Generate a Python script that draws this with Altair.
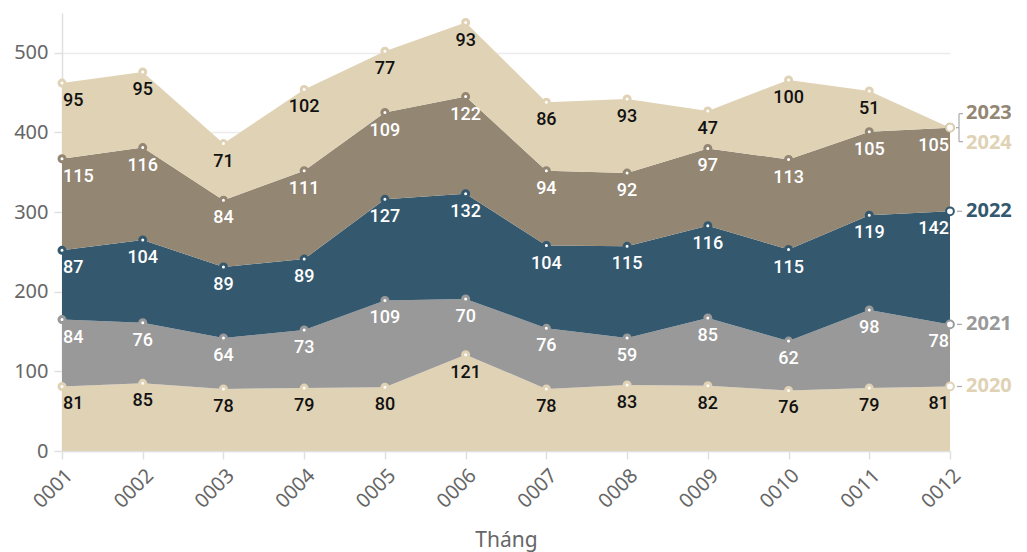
import altair as alt
import pandas as pd

# Monthly counts per year, stacked bottom (2020) to top (2024)
months = ["0001", "0002", "0003", "0004", "0005", "0006",
          "0007", "0008", "0009", "0010", "0011", "0012"]
years = ["2020", "2021", "2022", "2023", "2024"]
v2020 = [81, 85, 78, 79, 80, 121, 78, 83, 82, 76, 79, 81]
v2021 = [84, 76, 64, 73, 109, 70, 76, 59, 85, 62, 98, 78]
v2022 = [87, 104, 89, 89, 127, 132, 104, 115, 116, 115, 119, 142]
v2023 = [115, 116, 84, 111, 109, 122, 94, 92, 97, 113, 105, 105]
v2024 = [95, 95, 71, 102, 77, 93, 86, 93, 47, 100, 51, 0]
colors = ["#e0d2b4", "#999999", "#34596f", "#938673", "#e0d2b4"]

FONT = "Noto Sans"
LABEL_FONT = "Roboto"

series = [v2020, v2021, v2022, v2023, v2024]
rows = []
for mi, m in enumerate(months):
    base = 0
    for y, vals in zip(years, series):
        v = vals[mi]
        rows.append({"month": m, "idx": mi, "series": y, "value": v,
                     "base": base, "top": base + v})
        base += v
df = pd.DataFrame(rows)

x = alt.X("month:N", sort=months, title="Tháng",
          scale=alt.Scale(type="point", padding=0),
          axis=alt.Axis(labelAngle=-45, grid=False))
y_scale = alt.Scale(domain=[0, 550], nice=False)
color_scale = alt.Scale(domain=years, range=colors)

base_chart = alt.Chart(df)

areas = base_chart.mark_area(opacity=1).encode(
    x=x,
    y=alt.Y("top:Q", scale=y_scale, title=None,
            axis=alt.Axis(values=[0, 100, 200, 300, 400, 500])),
    y2="base:Q",
    color=alt.Color("series:N", scale=color_scale, legend=None),
    detail="series:N",
)

points = base_chart.mark_point(
    shape="circle", fill="white", fillOpacity=1, opacity=1,
    strokeWidth=3, size=36
).encode(
    x=x, y=alt.Y("top:Q", scale=y_scale),
    stroke=alt.Stroke("series:N", scale=color_scale, legend=None),
).transform_filter(f"datum.idx < {len(months) - 1}")

last_points = base_chart.mark_point(
    shape="circle", fill="white", fillOpacity=1, opacity=1,
    strokeWidth=2, size=60
).encode(
    x=x, y=alt.Y("top:Q", scale=y_scale),
    stroke=alt.Stroke("series:N", scale=color_scale, legend=None),
).transform_filter(f"datum.idx == {len(months) - 1}")

label_color = alt.condition(
    "datum.series == '2020' || datum.series == '2024'",
    alt.value("#111111"), alt.value("white"))


def value_labels(cond, align, dx):
    return base_chart.mark_text(
        font=LABEL_FONT, fontSize=18, fontWeight=500, baseline="middle",
        align=align, dx=dx, dy=18
    ).encode(
        x=x, y=alt.Y("top:Q", scale=y_scale),
        text="value:Q", color=label_color,
    ).transform_filter("datum.value > 0").transform_filter(cond)


last = len(months) - 1
labels_mid = value_labels(f"datum.idx > 0 && datum.idx < {last}", "center", 0)
labels_first = value_labels("datum.idx == 0", "left", 1)
labels_last = value_labels(f"datum.idx == {last}", "right", -1)

ends = df[df["idx"] == last]
end_base = alt.Chart(ends)


def end_label(cond, dy):
    return end_base.mark_text(
        font=FONT, fontSize=20, fontWeight="bold", align="left",
        baseline="middle", dx=16, dy=dy
    ).encode(
        x=x, y=alt.Y("top:Q", scale=y_scale), text="series:N",
        color=alt.Color("series:N", scale=color_scale, legend=None),
    ).transform_filter(cond)


end_single = end_label("datum.series <= '2022'", 0)
end_2023 = end_label("datum.series == '2023'", -15)
end_2024 = end_label("datum.series == '2024'", 15)

# short leader dashes to the single end labels
dashes = end_base.mark_rule(
    color="#aaaaaa", strokeWidth=1.2, xOffset=7, x2Offset=12
).encode(
    x=x, x2="month:N", y=alt.Y("top:Q", scale=y_scale),
).transform_filter("datum.series <= '2022'")

# bracket grouping the two coinciding end labels
pair_cond = "datum.series == '2024'"
bracket_v = end_base.mark_rule(
    color="#aaaaaa", strokeWidth=1.2, xOffset=9, x2Offset=9,
    yOffset=-14, y2Offset=14
).encode(
    x=x, y=alt.Y("top:Q", scale=y_scale), y2="top:Q",
).transform_filter(pair_cond)
bracket_top = end_base.mark_rule(
    color="#aaaaaa", strokeWidth=1.2, xOffset=9, x2Offset=13, yOffset=-14
).encode(
    x=x, x2="month:N", y=alt.Y("top:Q", scale=y_scale),
).transform_filter(pair_cond)
bracket_bot = end_base.mark_rule(
    color="#aaaaaa", strokeWidth=1.2, xOffset=9, x2Offset=13, yOffset=14
).encode(
    x=x, x2="month:N", y=alt.Y("top:Q", scale=y_scale),
).transform_filter(pair_cond)
bracket_link = end_base.mark_rule(
    color="#aaaaaa", strokeWidth=1.2, xOffset=6, x2Offset=9
).encode(
    x=x, x2="month:N", y=alt.Y("top:Q", scale=y_scale),
).transform_filter(pair_cond)

chart = alt.layer(
    areas, points, last_points, labels_mid, labels_first, labels_last,
    dashes, bracket_v, bracket_top, bracket_bot, bracket_link,
    end_single, end_2023, end_2024,
).properties(
    width=888, height=438,
    autosize=alt.AutoSizeParams(type="none"),
    padding={"left": 62, "top": 13, "right": 77, "bottom": 101},
).configure_view(
    stroke=None
).configure_axis(
    labelFont=FONT, labelFontSize=20, labelColor="#666666",
    titleFont=FONT, titleFontSize=21, titleColor="#666666",
    titleFontWeight="normal",
    domainColor="#e0e0e0", domainWidth=1.5,
    tickColor="#e0e0e0", tickSize=8, tickWidth=1.5,
    gridColor="#ececec", gridWidth=1.5,
).configure_axisX(
    labelPadding=6, titlePadding=18,
).configure_axisY(
    labelPadding=6,
)

chart.save("out.html", embed_options={"renderer": "svg", "actions": False})
